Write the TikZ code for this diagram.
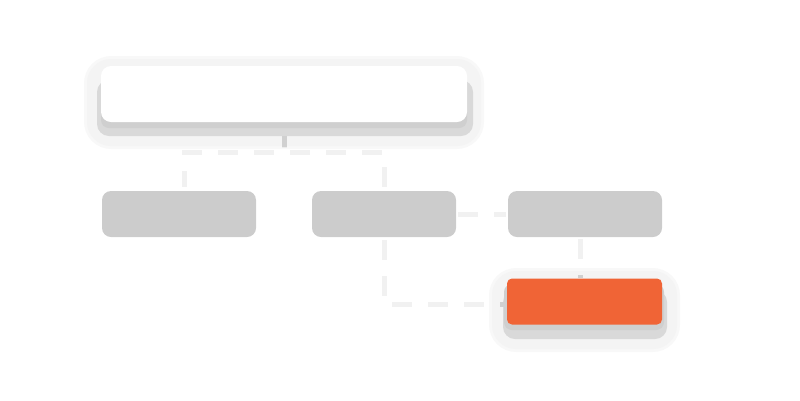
\documentclass[tikz,border=0pt]{standalone}
\usepackage{xcolor}
\usepackage{tikz}
\usetikzlibrary{positioning,calc}

\definecolor{haloedge}{HTML}{F8F8F8}
\definecolor{halogray}{HTML}{F4F4F4}
\definecolor{shadelight}{HTML}{D9D9D9}
\definecolor{shadedark}{HTML}{CFCFCF}
\definecolor{boxgray}{HTML}{CCCCCC}
\definecolor{hitorange}{HTML}{F06436}
\definecolor{linkgray}{HTML}{F1F1F1}
\definecolor{linkdark}{HTML}{D0D0D0}

\begin{document}
\begin{tikzpicture}[
    x=1pt, y=-1pt,
    haloout/.style={fill=haloedge, rounded corners=27pt},
    halo/.style={fill=halogray, rounded corners=24pt},
    shadeout/.style={fill=shadelight, rounded corners=12pt},
    shadein/.style={fill=shadedark, rounded corners=8pt},
    rootnode/.style={fill=white, rounded corners=10pt, minimum width=366pt, minimum height=56pt, inner sep=0pt},
    boxnode/.style={fill=boxgray, rounded corners=9pt, minimum width=154pt, minimum height=46pt, inner sep=0pt},
    hitnode/.style={fill=hitorange, rounded corners=5pt, minimum width=155pt, minimum height=46pt, inner sep=0pt},
    link/.style={line width=5pt, dash pattern=on 20pt off 16pt}
]
    \useasboundingbox (0,0) rectangle (800,400);

    % glow and shadow behind the two raised boxes
    \fill[haloout] (84,56) rectangle (484,149);
    \fill[haloout] (489,268) rectangle (680,352);
    \fill[halo] (87,59) rectangle (481,146);
    \fill[halo] (492,271) rectangle (677,349);
    \fill[shadeout] (97,80) rectangle (473,136);
    \fill[shadein] (101,74) rectangle (467,128);
    \fill[shadeout] (503,290) rectangle (667,339);
    \fill[shadein] (504,284) rectangle (664,330);

    \node[rootnode] (root) at (284,94) {};
    \node[boxnode] (left) at (179,214) {};
    \node[boxnode, minimum width=144pt] (mid) at (384,214) {};
    \node[boxnode] (right) at (585,214) {};
    \node[hitnode] (hit) at (584.5,301.5) {};

    % connectors
    \draw[link, linkgray, shorten <=14pt, shorten >=5pt] (root.south) -- ++(0,31);
    \draw[link, linkgray, shorten <=4pt, shorten >=4pt] (mid.north) -- ++(0,-38) -| ([xshift=5pt]left.north);
    \draw[link, linkgray, shorten <=2pt, shorten >=2pt] (mid.east) -- (right.west);
    \draw[link, linkgray, shorten <=3pt] (mid.south) |- ([yshift=-2.5pt]hit.west);
    \draw[link, linkgray, shorten <=2pt] ([xshift=-5pt]right.south) -- ([xshift=-4.5pt]hit.north);

    % the same connectors, darker where they cross a glow
    \begin{scope}
        \clip[rounded corners=24pt] (86,58) rectangle (482,147) (491,270) rectangle (678,350);
        \draw[link, linkdark, shorten <=14pt, shorten >=5pt] (root.south) -- ++(0,31);
        \draw[link, linkdark, shorten <=3pt] (mid.south) |- ([yshift=-2.5pt]hit.west);
        \draw[link, linkdark, shorten <=2pt] ([xshift=-5pt]right.south) -- ([xshift=-4.5pt]hit.north);
    \end{scope}
\end{tikzpicture}
\end{document}
